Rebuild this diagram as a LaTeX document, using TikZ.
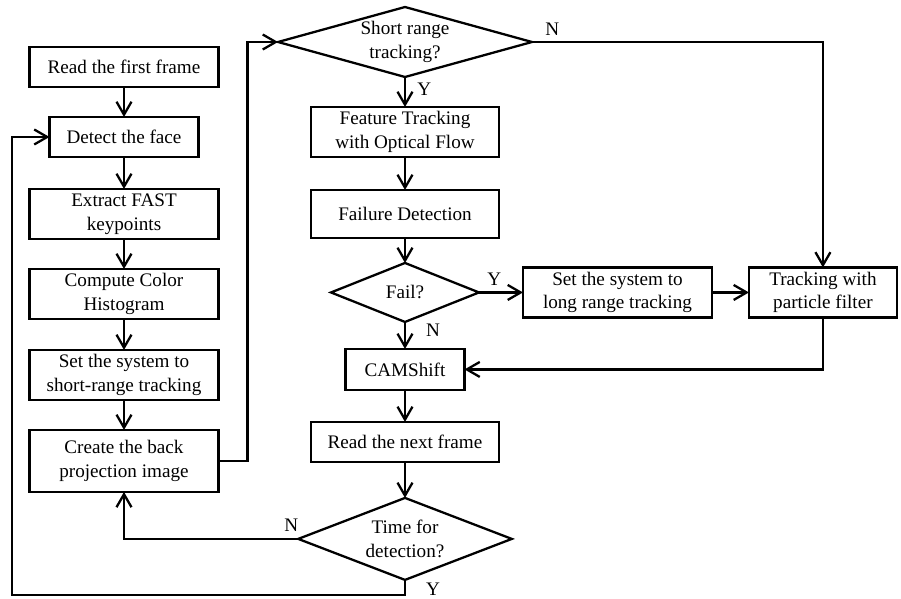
\documentclass[tikz,border=0pt]{standalone}
\usepackage{fontspec}
\setmainfont{Liberation Serif}
\usetikzlibrary{positioning, shapes.geometric, arrows.meta}

\begin{document}
\begin{tikzpicture}[
    x=0.02cm, y=-0.02cm,
    node distance=0.62cm,
    line width=1.3pt,
    font=\fontsize{10.9}{13.5}\selectfont,
    >={Straight Barb[length=2.6mm, width=3mm]},
    block/.style={rectangle, draw, align=center, minimum width=3.78cm, minimum height=0.8cm, inner sep=2pt, outer sep=0pt},
    twoline/.style={block, minimum height=1cm},
    decision/.style={diamond, draw, align=center, inner sep=0pt, outer sep=0pt, aspect=3.6}
]
\useasboundingbox (0,0) rectangle (901,598);

% left column
\node [block] (first) at (124,67) {Read the first frame};
\node [block, minimum width=2.98cm, below=0.6cm of first] (face) {Detect the face};
\node [twoline, below=0.64cm of face] (fast) {Extract FAST\\ keypoints};
\node [twoline, below=0.6cm of fast] (hist) {Compute Color\\ Histogram};
\node [twoline, below=0.62cm of hist] (shortset) {Set the system to\\ short-range tracking};
\node [twoline, minimum height=1.24cm, below=0.6cm of shortset] (backproj) {Create the back\\ projection image};

% middle column
\node [decision, minimum width=5.08cm, minimum height=1.4cm] (shortq) at (405,42) {Short range\\ tracking?};
\node [twoline, minimum width=3.76cm, below=0.6cm of shortq] (optflow) {Feature Tracking\\ with Optical Flow};
\node [block, minimum width=3.76cm, minimum height=0.96cm, below=0.66cm of optflow] (faildet) {Failure Detection};
\node [decision, minimum width=2.96cm, minimum height=1.18cm, below=0.5cm of faildet] (failq) {Fail?};
\node [block, minimum width=2.38cm, minimum height=0.82cm, below=0.54cm of failq] (camshift) {CAMShift};
\node [block, minimum width=3.76cm, below=0.64cm of camshift] (nextframe) {Read the next frame};
\node [decision, minimum width=4.1cm, minimum height=1.64cm, below=0.72cm of nextframe] (timeq) {Time for\\ detection?};

% right side
\node [twoline, right=0.88cm of failq] (longset) {Set the system to\\ long range tracking};
\node [twoline, minimum width=2.96cm, right=0.74cm of longset] (particle) {Tracking with\\ particle filter};

\coordinate (loop) at (12,595);

\draw [->] (first) -- (face);
\draw [->] (face) -- (fast);
\draw [->] (fast) -- (hist);
\draw [->] (hist) -- (shortset);
\draw [->] (shortset) -- (backproj);
\draw [->] (backproj.east) -- ++(29,0) |- (shortq.west);
\draw [->] (shortq.east) -| node[pos=0.035, above] {N} (particle.north);
\draw [->] (shortq) -- node[pos=0.4, right=3pt] {Y} (optflow);
\draw [->] (optflow) -- (faildet);
\draw [->] (faildet) -- (failq);
\draw [->] (failq) -- node[pos=0.35, above] {Y} (longset);
\draw [->] (failq) -- node[pos=0.3, right=8pt] {N} (camshift);
\draw [->] (longset) -- (particle);
\draw [->] (particle.south) |- (camshift.east);
\draw [->] (camshift) -- (nextframe);
\draw [->] (nextframe) -- (timeq);
\draw [->] (timeq.west) -| node[pos=0.02, above] {N} (backproj.south);
\draw [->] (timeq.south) |- node[pos=0.3, right=8pt] {Y} (loop) |- (face.west);

\end{tikzpicture}
\end{document}
